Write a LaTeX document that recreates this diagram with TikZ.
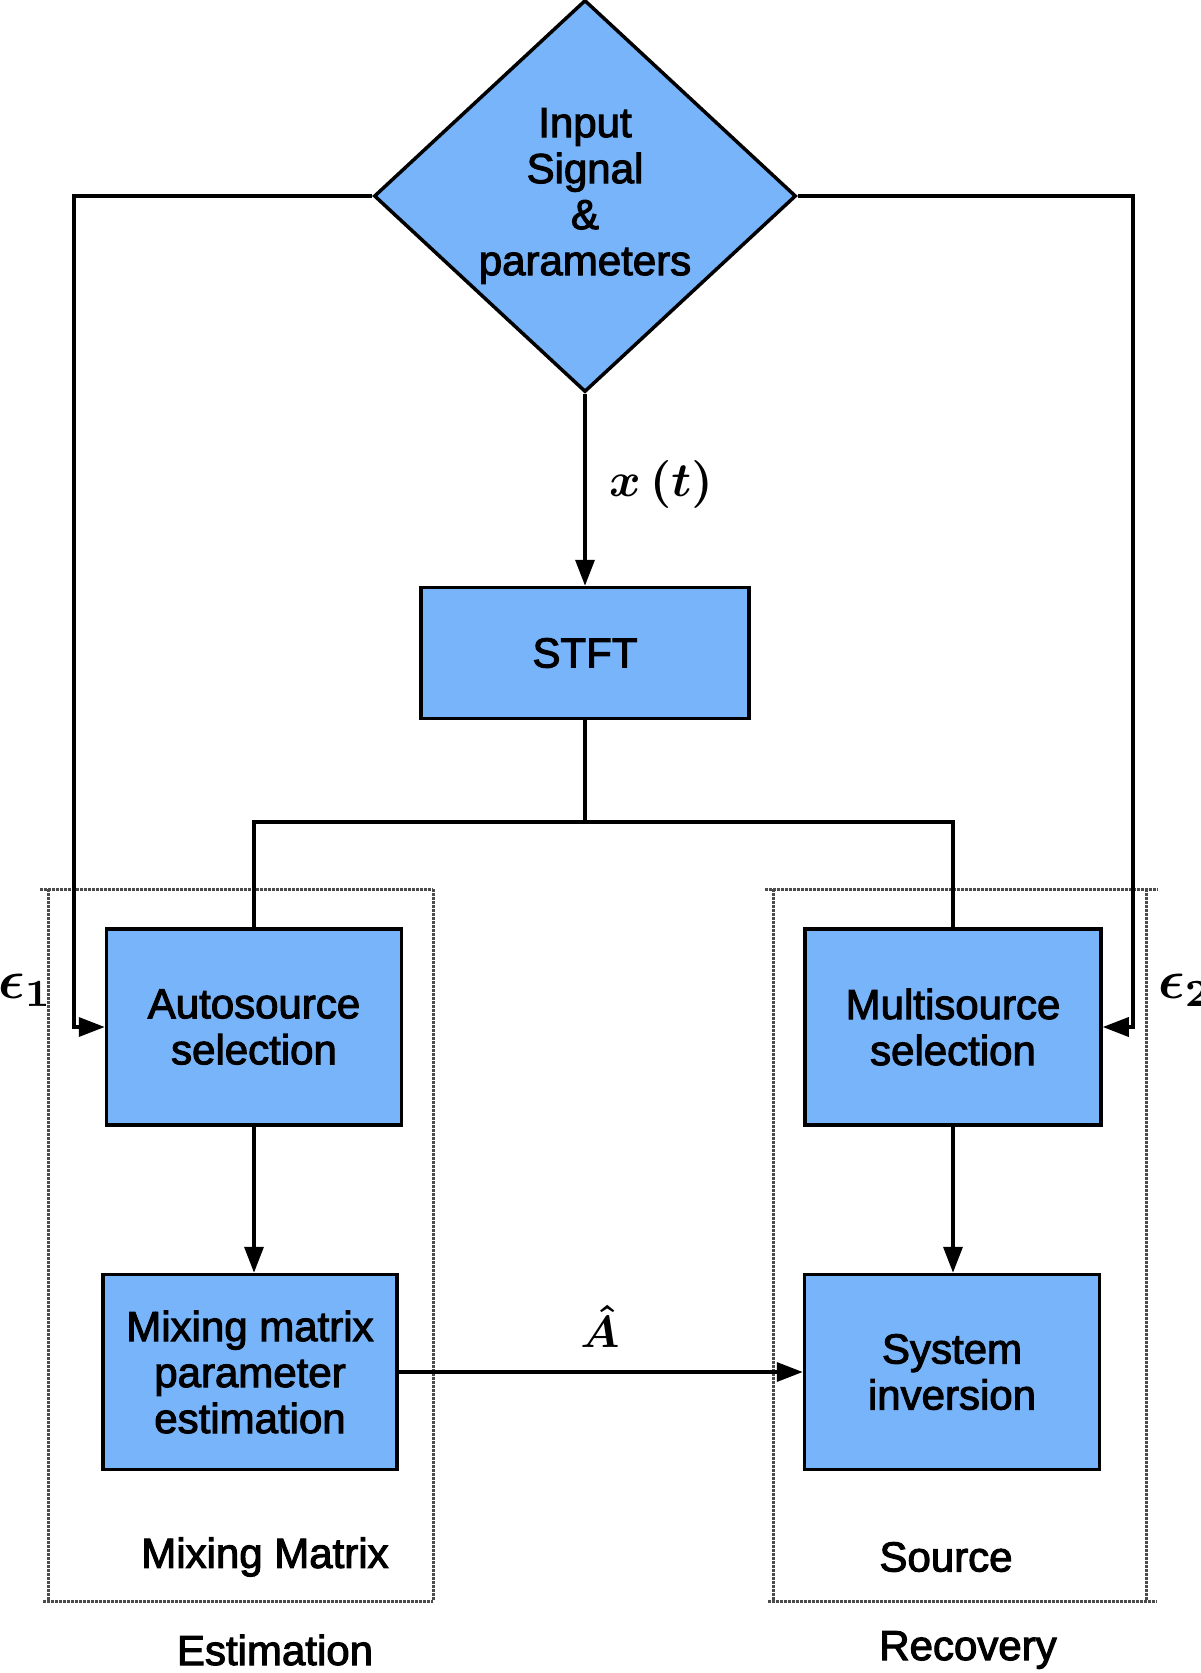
\documentclass[tikz,border=0pt]{standalone}
\usepackage{fontspec}
\setmainfont{Liberation Sans}[BoldFont=Liberation Sans, BoldFeatures={FakeBold=2.5}]
\usetikzlibrary{shapes.geometric,arrows.meta}
\definecolor{boxblue}{RGB}{120,180,250}
\begin{document}
\begin{tikzpicture}[x=1pt,y=-1pt,
 every node/.style={font=\fontsize{42}{46}\selectfont\bfseries},
 blk/.style={draw=black, line width=3.5pt, fill=boxblue, align=center, inner sep=0pt},
 conn/.style={line width=3.5pt, black},
 arr/.style={conn, -{Triangle[length=26pt,width=19pt]}},
 frame/.style={line width=3pt, dash pattern=on 2.5pt off 1.5pt, black!70},
 lbl/.style={inner sep=0pt},
 mlbl/.style={inner sep=0pt},
 ]
\useasboundingbox (0,0) rectangle (1200,1673);
% frames
\draw[frame] (40,889) -- (433,889);
\draw[frame] (48,889) -- (48,1601);
\draw[frame] (433,889) -- (433,1601);
\draw[frame] (43,1601) -- (433,1601);
\draw[frame] (765,889) -- (1158,889);
\draw[frame] (773,889) -- (773,1601);
\draw[frame] (1146,889) -- (1146,1601);
\draw[frame] (768,1601) -- (1157,1601);
% blocks
\node[blk, shape=diamond, minimum width=422pt, minimum height=392pt] (inp) at (585,196) {Input\\Signal\\\&\\parameters};
\node[blk, minimum width=328pt, minimum height=131pt] (stft) at (585,653) {STFT};
\node[blk, minimum width=295pt, minimum height=196pt] (auto) at (254,1027) {Autosource\\selection};
\node[blk, minimum width=296pt, minimum height=196pt] (multi) at (953,1027) {Multisource\\selection};
\node[blk, minimum width=294pt, minimum height=195pt] (mix) at (250,1372) {Mixing matrix\\parameter\\estimation};
\node[blk, minimum width=295pt, minimum height=195pt] (sys) at (952,1372) {System\\inversion};
% connectors
\coordinate (lcorner) at (74,196);
\coordinate (rcorner) at (1133,196);
\coordinate (split) at (585,822);
\draw[arr] (inp.west) -- (lcorner) |- (auto.west);
\draw[arr] (inp.east) -- (rcorner) |- (multi.east);
\draw[arr] (inp.south) -- (stft.north);
\draw[conn] (stft.south) -- (split);
\draw[conn] (split) -| (auto.north);
\draw[conn] (split) -| (multi.north);
\draw[arr] (auto.south) -- (auto.south |- mix.north);
\draw[arr] (multi.south) -- (multi.south |- sys.north);
\draw[arr] (mix.east) -- (sys.west);
% labels
\node[mlbl] (xt) at (661,484) {\scalebox{4.8}{\normalsize\boldmath$x\,(t)$}};
\node[mlbl] (ahat) at (600,1326) {\scalebox{4.5}{\normalsize\boldmath$\hat{A}$}};
\node[mlbl, anchor=west] (e1) at (-2,990) {\scalebox{5.5}{\normalsize\boldmath$\epsilon_1$}};
\node[mlbl, anchor=west] (e2) at (1158,990) {\scalebox{5.5}{\normalsize\boldmath$\epsilon_2$}};
\node[lbl] (mm) at (265,1557) {Mixing Matrix};
\node[lbl] (src) at (946,1557) {Source};
\node[lbl] (est) at (275,1650) {Estimation};
\node[lbl] (rec) at (968,1650) {Recovery};
\end{tikzpicture}
\end{document}
